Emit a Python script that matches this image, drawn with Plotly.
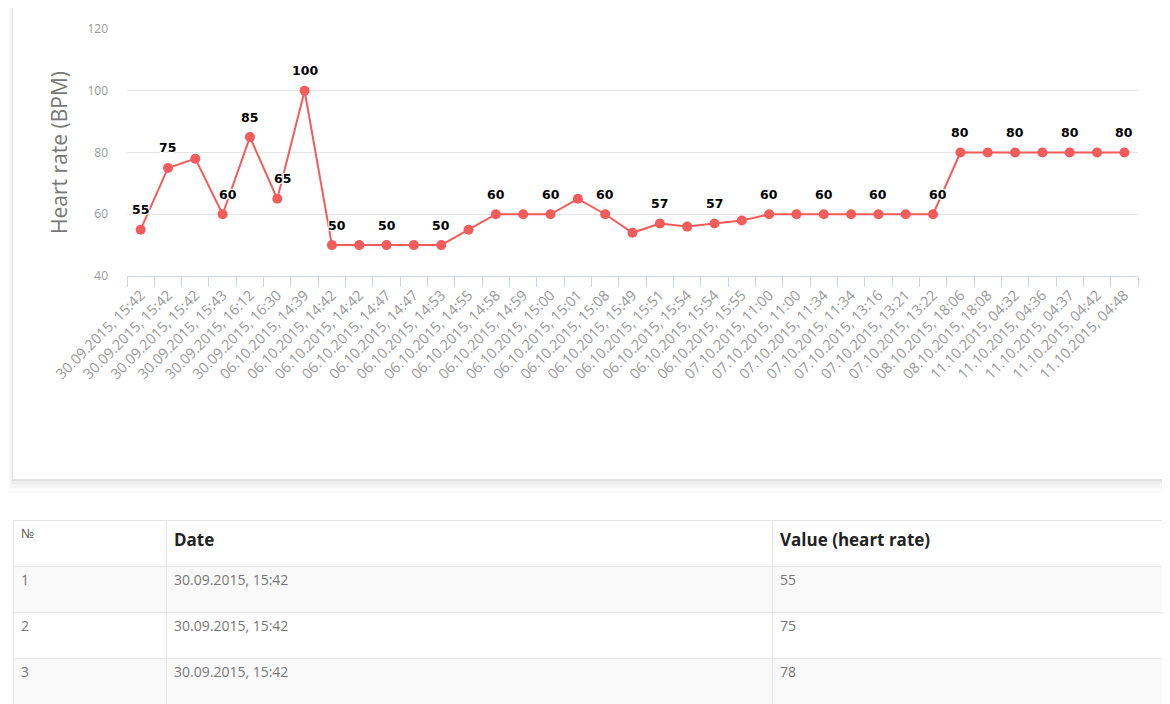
import plotly.graph_objects as go

# ---------------- data ----------------
dates = [
    "30.09.2015, 15:42", "30.09.2015, 15:42", "30.09.2015, 15:42", "30.09.2015, 15:43",
    "30.09.2015, 16:12", "30.09.2015, 16:30", "06.10.2015, 14:39", "06.10.2015, 14:42",
    "06.10.2015, 14:42", "06.10.2015, 14:47", "06.10.2015, 14:47", "06.10.2015, 14:53",
    "06.10.2015, 14:55", "06.10.2015, 14:58", "06.10.2015, 14:59", "06.10.2015, 15:00",
    "06.10.2015, 15:01", "06.10.2015, 15:08", "06.10.2015, 15:49", "06.10.2015, 15:51",
    "06.10.2015, 15:54", "06.10.2015, 15:54", "06.10.2015, 15:55", "07.10.2015, 11:00",
    "07.10.2015, 11:00", "07.10.2015, 11:34", "07.10.2015, 11:34", "07.10.2015, 13:16",
    "07.10.2015, 13:21", "07.10.2015, 13:22", "08.10.2015, 18:06", "08.10.2015, 18:08",
    "11.10.2015, 04:32", "11.10.2015, 04:36", "11.10.2015, 04:37", "11.10.2015, 04:42",
    "11.10.2015, 04:48",
]
heart_rate = [
    55, 75, 78, 60, 85, 65, 100, 50, 50, 50, 50, 50, 55, 60, 60, 60, 65, 60, 54, 57,
    56, 57, 58, 60, 60, 60, 60, 60, 60, 60, 80, 80, 80, 80, 80, 80, 80,
]
# indices of points whose value label is visible in the chart
labelled_points = [0, 1, 3, 4, 5, 6, 7, 9, 11, 13, 15, 17, 19, 21, 23, 25, 27, 29, 30, 32, 34, 36]
# labels that the chart nudged sideways to avoid the line
nudged_points = [3, 5, 7, 29]
y_ticks = [40, 60, 80, 100, 120]

table_header = ["№", "Date", "Value (heart rate)"]
table_rows_shown = 3

# ---------------- figure ----------------
PAGE_W, PAGE_H = 1170, 704
BODY_MARGIN = 8                       # default page margin around the plot div
W, H = PAGE_W - BODY_MARGIN, PAGE_H - BODY_MARGIN
idx = list(range(len(heart_rate)))


def px_x(p):
    """page pixel -> paper fraction"""
    return (p - BODY_MARGIN) / W


def px_y(p):
    return 1 - (p - BODY_MARGIN) / H


fig = go.Figure()

fig.add_trace(go.Scatter(
    x=idx, y=heart_rate, mode="lines+markers",
    line=dict(color="#f45b5b", width=2),
    marker=dict(color="#f45b5b", size=10),
    cliponaxis=False, hoverinfo="x+y", showlegend=False,
))

annotations = []
for i in labelled_points:
    annotations.append(dict(
        x=i, y=heart_rate[i], xref="x", yref="y", text=str(heart_rate[i]),
        showarrow=False, yshift=20, xshift=5 if i in nudged_points else 0,
        font=dict(family="DejaVu Sans", size=12.5, color="#000000", weight="bold",
                  shadow="1px 1px 1px #fff, -1px -1px 1px #fff, 1px -1px 1px #fff, -1px 1px 1px #fff"),
    ))

n_rows = table_rows_shown
row_fill = ["#f9f9f9" if r % 2 == 0 else "#ffffff" for r in range(n_rows)]
fig.add_trace(go.Table(
    domain=dict(x=[px_x(13), 1.0], y=[0.0, px_y(520)]),
    columnwidth=[153, 606, 398],
    header=dict(
        values=[table_header[0], "<b>" + table_header[1] + "</b>", "<b>" + table_header[2] + "</b>"],
        align="left", height=46,
        fill_color="#ffffff",
        line=dict(color="#e6e6e6", width=1),
        font=dict(family="Open Sans", size=[13, 17, 17], color=["#555555", "#222222", "#222222"]),
    ),
    cells=dict(
        values=[[str(i + 1) for i in range(n_rows)], dates[:n_rows], [str(v) for v in heart_rate[:n_rows]]],
        align="left", height=46,
        fill_color=[row_fill, row_fill, row_fill],
        line=dict(color="#e6e6e6", width=1),
        font=dict(family="Open Sans", size=14, color="#777777"),
    ),
))

# card with soft shadow behind the chart
shapes = []
for off, op in [(14, 0.015), (9, 0.025), (5, 0.035), (2, 0.05)]:
    shapes.append(dict(type="rect", xref="paper", yref="paper", layer="below",
                       x0=px_x(13 - off / 3), x1=px_x(1168 + off / 3), y0=px_y(479 + off), y1=1.05,
                       fillcolor=f"rgba(0,0,0,{op})", line=dict(width=0)))
shapes.append(dict(type="rect", xref="paper", yref="paper", layer="below",
                   x0=px_x(13), x1=px_x(1168), y0=px_y(479), y1=1.05,
                   fillcolor="#ffffff", line=dict(width=0)))

fig.update_layout(
    width=W, height=H, autosize=False,
    margin=dict(l=0, r=0, t=0, b=0, autoexpand=False),
    paper_bgcolor="#ffffff", plot_bgcolor="rgba(0,0,0,0)",
    shapes=shapes, annotations=annotations,
    xaxis=dict(
        domain=[px_x(127), px_x(1138)],
        range=[-0.5, len(heart_rate) - 0.5],
        tickmode="array", tickvals=idx, ticktext=dates,
        tickangle=-45, ticks="", showgrid=False, zeroline=False,
        showline=True, linecolor="#ccd6eb", linewidth=1,
        tickfont=dict(family="Open Sans", size=14.5, color="#999999"),
        minor=dict(tick0=0.5, dtick=1, ticks="outside", ticklen=10, tickcolor="#ccd6eb", showgrid=False),
        ticklabelstandoff=4, automargin=False,
        fixedrange=True,
    ),
    yaxis=dict(
        domain=[px_y(276), px_y(29)],
        range=[40, 120], tickvals=y_ticks,
        showgrid=True, gridcolor="#e6e6e6", gridwidth=1, zeroline=False,
        showline=False, ticks="",
        tickfont=dict(family="Open Sans", size=12, color="#999999"),
        ticklabelstandoff=18, automargin=False,
        title=dict(text="Heart rate (BPM)", standoff=14,
                   font=dict(family="Open Sans", size=21, color="#777777")),
        fixedrange=True,
    ),
)

fig.write_html("out.html")
